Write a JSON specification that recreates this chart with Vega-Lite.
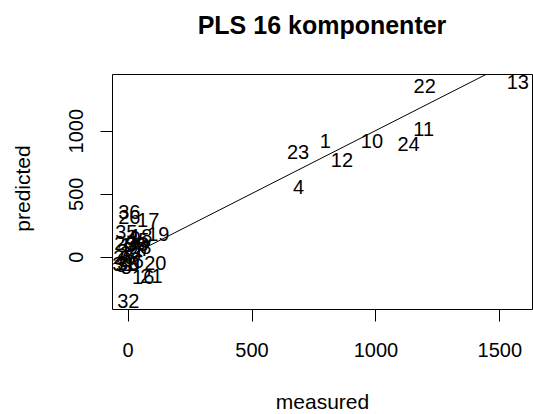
{
  "$schema": "https://vega.github.io/schema/vega-lite/v6.json",
  "width": 420,
  "height": 235,
  "autosize": {"type": "none"},
  "padding": {"left": 112, "top": 74, "right": 1, "bottom": 105},
  "background": "white",
  "title": {"text": "PLS 16 komponenter", "fontSize": 25, "fontWeight": "bold", "font": "Liberation Sans", "anchor": "middle", "baseline": "alphabetic", "offset": 15, "color": "black"},
  "config": {"view": {"stroke": "black", "strokeWidth": 1}, "font": "Liberation Sans"},
  "datasets": {
    "ref": [
      {"measured": -200, "predicted": -200},
      {"measured": 2000, "predicted": 2000}
    ],
    "points": [
      {"label": "1", "measured": 798, "predicted": 913},
      {"label": "4", "measured": 690, "predicted": 548},
      {"label": "10", "measured": 986, "predicted": 913},
      {"label": "11", "measured": 1195, "predicted": 1006},
      {"label": "12", "measured": 865, "predicted": 762},
      {"label": "13", "measured": 1575, "predicted": 1380},
      {"label": "22", "measured": 1199, "predicted": 1344},
      {"label": "23", "measured": 688, "predicted": 821},
      {"label": "24", "measured": 1134, "predicted": 887},
      {"label": "36", "measured": 7, "predicted": 347},
      {"label": "26", "measured": 7, "predicted": 308},
      {"label": "17", "measured": 83, "predicted": 282},
      {"label": "35", "measured": -5, "predicted": 187},
      {"label": "19", "measured": 124, "predicted": 172},
      {"label": "18", "measured": 55, "predicted": 156},
      {"label": "9", "measured": 31, "predicted": 140},
      {"label": "15", "measured": 43, "predicted": 124},
      {"label": "29", "measured": -9, "predicted": 101},
      {"label": "33", "measured": 39, "predicted": 93},
      {"label": "14", "measured": 15, "predicted": 85},
      {"label": "28", "measured": 51, "predicted": 69},
      {"label": "27", "measured": 23, "predicted": 53},
      {"label": "7", "measured": 71, "predicted": 53},
      {"label": "2", "measured": -20, "predicted": 37},
      {"label": "34", "measured": 15, "predicted": 21},
      {"label": "25", "measured": -13, "predicted": -10},
      {"label": "31", "measured": -17, "predicted": -66},
      {"label": "8", "measured": 27, "predicted": -66},
      {"label": "30", "measured": 3, "predicted": -58},
      {"label": "3", "measured": -25, "predicted": -74},
      {"label": "5", "measured": -5, "predicted": -90},
      {"label": "20", "measured": 112, "predicted": -58},
      {"label": "6", "measured": 43, "predicted": -42},
      {"label": "16", "measured": 63, "predicted": -170},
      {"label": "21", "measured": 96, "predicted": -161},
      {"label": "32", "measured": 3, "predicted": -359}
    ]
  },
  "encoding": {
    "x": {
      "field": "measured", "type": "quantitative",
      "scale": {"domain": [-63, 1632], "nice": false, "zero": false},
      "axis": {"title": "measured", "values": [0, 500, 1000, 1500], "format": "d", "domain": false, "grid": false, "tickSize": 12, "tickColor": "black", "labelFontSize": 20, "labelColor": "black", "labelPadding": 19, "labelFlush": false, "labelOverlap": false, "titleFontSize": 21, "titleFontWeight": "normal", "titleColor": "black", "titleBaseline": "alphabetic", "titleY": 99}
    },
    "y": {
      "field": "predicted", "type": "quantitative",
      "scale": {"domain": [-415, 1450], "nice": false, "zero": false},
      "axis": {"title": "predicted", "values": [0, 500, 1000], "format": "d", "domain": false, "grid": false, "tickSize": 12, "tickColor": "black", "labelFontSize": 20, "labelColor": "black", "labelAngle": 270, "labelAlign": "center", "labelBaseline": "alphabetic", "labelPadding": 18, "labelFlush": false, "labelOverlap": false, "titleFontSize": 21, "titleFontWeight": "normal", "titleColor": "black", "titleAngle": 270, "titleBaseline": "alphabetic", "titleX": -83, "titleY": 114}
    }
  },
  "layer": [
    {
      "data": {"name": "ref"},
      "mark": {"type": "line", "color": "black", "strokeWidth": 1, "clip": true}
    },
    {
      "data": {"name": "points"},
      "mark": {"type": "text", "fontSize": 20, "color": "black", "align": "center", "baseline": "middle", "clip": true},
      "encoding": {"text": {"field": "label"}}
    }
  ]
}
